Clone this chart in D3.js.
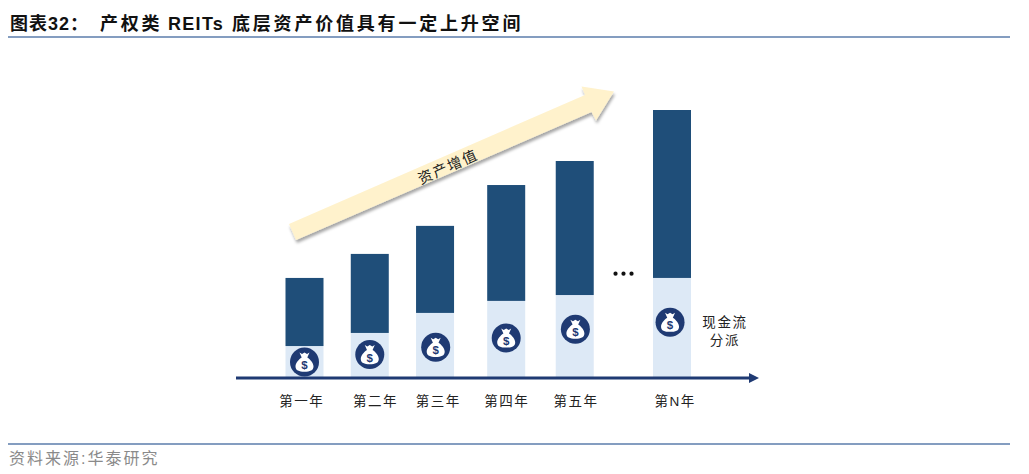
<!DOCTYPE html>
<html>
<head>
<meta charset="utf-8">
<script src="https://cdn.jsdelivr.net/npm/d3@7/dist/d3.min.js"></script>
<style>
html, body { margin: 0; padding: 0; background: #fff; }
svg { display: block; }
text { font-family: "Liberation Sans", "Noto Sans CJK SC", sans-serif; }
</style>
</head>
<body>
<svg></svg>
<script>
// Data (height 100 = tallest bar)
const categories = ['第一年', '第二年', '第三年', '第四年', '第五年', '第N年']
const cashValues = [11.6, 16.5, 24, 28.5, 30.7, 37.1]
const assetValues = [25.5, 29.6, 32.6, 43.4, 50.2, 62.9]
const iconValues = [5.6, 8.4, 11.1, 14.6, 17.9, 20.5]
// the years are not evenly spaced in the original
const barSlots = [0, 1, 2, 3.09, 4.14, 5.63]
const labelSlots = [-0.05, 1.08, 2.04, 3.09, 4.15, 5.67]
const iconSlots = [0, 1, 2.01, 3.09, 4.15, 5.6]
const dotSlots = [4.765, 4.887, 5.01]
const titleParts = ['图表32：', '产权类', 'REITs', '底层资产价值具有一定上升空间']
const sourceText = '资料来源:华泰研究'
const arrowText = '资产增值'
const cashText = ['现金流', '分派']

const width = 1029
const height = 474
const baseline = 377
const barWidth = 38

const svg = d3.select('svg').attr('width', width).attr('height', height)

const table = categories.map((name, i) => ({name, cash: cashValues[i], asset: assetValues[i]}))
const stacked = d3.stack().keys(['cash', 'asset'])(table)

const xScale = d3.scaleLinear().domain([0, 5.63]).range([304.5, 672])
const yScale = d3.scaleLinear().domain([0, 100]).range([baseline, 110])
const colors = {cash: '#dde9f6', asset: '#1f4e79'}

const defs = svg.append('defs')
const shadow = defs.append('filter').attr('id', 'shadow')
    .attr('x', '-10%').attr('y', '-20%').attr('width', '120%').attr('height', '140%')
shadow.append('feDropShadow')
    .attr('dx', 1).attr('dy', 3).attr('stdDeviation', 1.6)
    .attr('flood-color', '#000').attr('flood-opacity', 0.35)

// header and footer
const titlePlaces = [{x: 10, gap: 1}, {x: 100, gap: 2.8}, {x: 168, gap: 1.3}, {x: 232, gap: 2.8}]
svg.append('text').attr('y', 30)
    .attr('font-size', 18).attr('font-weight', 700).attr('fill', '#111')
    .selectAll('tspan')
    .data(titleParts)
    .enter()
    .append('tspan')
    .attr('x', (d, i) => titlePlaces[i].x)
    .attr('letter-spacing', (d, i) => titlePlaces[i].gap)
    .text((d) => d)
svg.append('line').attr('x1', 8).attr('x2', 1010).attr('y1', 37).attr('y2', 37)
    .attr('stroke', '#5b7dab').attr('stroke-width', 1.6)
svg.append('line').attr('x1', 8).attr('x2', 1010).attr('y1', 444).attr('y2', 444)
    .attr('stroke', '#5b7dab').attr('stroke-width', 1.6)
svg.append('text').attr('x', 9).attr('y', 464)
    .attr('font-size', 16).attr('fill', '#8a8a8a').attr('letter-spacing', 2)
    .text(sourceText)

// bars
svg.selectAll('g.layer')
    .data(stacked)
    .enter()
    .append('g')
    .attr('class', 'layer')
    .attr('fill', (s) => colors[s.key])
    .selectAll('rect')
    .data((s) => s)
    .enter()
    .append('rect')
    .attr('x', (d, i) => xScale(barSlots[i]) - barWidth / 2)
    .attr('y', (d) => yScale(d[1]))
    .attr('width', barWidth)
    .attr('height', (d) => yScale(d[0]) - yScale(d[1]))

// rising arrow
const arrowPoints = [[289, 224], [585, 95], [581.5, 86.5], [614, 91.5], [596, 120.5], [591.5, 112], [296, 240]]
svg.append('polygon')
    .attr('points', arrowPoints.join(' '))
    .attr('fill', '#fff2cc')
    .attr('filter', 'url(#shadow)')
svg.append('text')
    .attr('transform', 'translate(448,167) rotate(-24)')
    .attr('text-anchor', 'middle').attr('dominant-baseline', 'central')
    .attr('font-size', 14.5).attr('letter-spacing', 1.5).attr('fill', '#222')
    .text(arrowText)

// money bag icons
const icons = svg.selectAll('g.icon')
    .data(iconValues)
    .enter()
    .append('g')
    .attr('class', 'icon')
    .attr('transform', (d, i) => `translate(${xScale(iconSlots[i])},${yScale(d)})`)
icons.append('circle').attr('r', 14.5).attr('fill', '#1f3a73')
icons.append('path')
    .attr('d', 'M-5,-9.5 L-2.5,-8 L0,-9.5 L2.5,-8 L5,-9.5 L2.8,-4.6 C6,-2.6 9,1.2 9,4.4 C9,8.4 5.5,9.6 0,9.6 C-5.5,9.6 -9,8.4 -9,4.4 C-9,1.2 -6,-2.6 -2.8,-4.6 Z')
    .attr('fill', '#fff')
icons.append('text')
    .attr('y', 7).attr('text-anchor', 'middle')
    .attr('font-size', 11.5).attr('font-weight', 700).attr('fill', '#1f3a73')
    .text('$')

// ellipsis
svg.selectAll('circle.dot')
    .data(dotSlots)
    .enter()
    .append('circle')
    .attr('class', 'dot')
    .attr('cx', (d) => xScale(d))
    .attr('cy', 273.7)
    .attr('r', 2.1)
    .attr('fill', '#111')

// x axis: labels through the axis generator, line and head drawn on top
const labelAxis = d3.axisBottom(xScale)
    .tickValues(labelSlots)
    .tickFormat((d, i) => categories[i])
    .tickSize(0)
    .tickPadding(0)
const axisGroup = svg.append('g')
    .attr('transform', `translate(0,${baseline + 19})`)
    .call(labelAxis)
axisGroup.select('.domain').remove()
axisGroup.selectAll('text')
    .attr('font-size', 13.5).attr('letter-spacing', 1.5).attr('fill', '#222')
    .style('font-family', '"Liberation Sans", "Noto Sans CJK SC", sans-serif')

svg.append('line').attr('x1', 236).attr('x2', 752).attr('y1', baseline + 1).attr('y2', baseline + 1)
    .attr('stroke', '#1f3a73').attr('stroke-width', 3)
svg.append('polygon').attr('points', '749,373 759,378 749,383').attr('fill', '#1f3a73')

// side note
svg.selectAll('text.note')
    .data(cashText)
    .enter()
    .append('text')
    .attr('class', 'note')
    .attr('x', 725)
    .attr('y', (d, i) => 322 + i * 18.5)
    .attr('text-anchor', 'middle').attr('dominant-baseline', 'central')
    .attr('font-size', 13.5).attr('letter-spacing', 1.7).attr('fill', '#222')
    .text((d) => d)
</script>
</body>
</html>
